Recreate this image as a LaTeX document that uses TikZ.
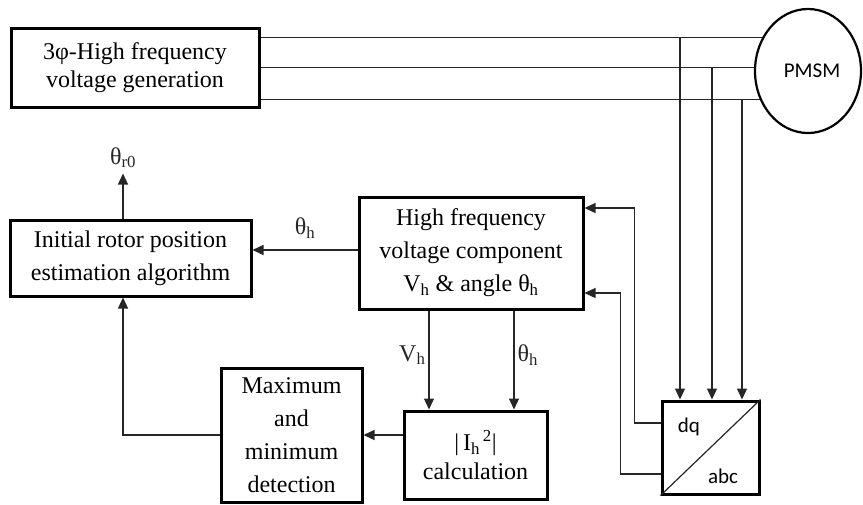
\documentclass[tikz,border=0pt]{standalone}
\usepackage{fontspec}
\setmainfont{Liberation Serif}
\newfontfamily\sansfont{Carlito}
\usetikzlibrary{arrows.meta, shapes.geometric, backgrounds}

\begin{document}
\begin{tikzpicture}[x=1pt, y=-1pt,
    block/.style={draw, line width=3pt, align=center, inner sep=0pt,
                  font=\fontsize{24}{33}\selectfont},
    conn/.style={line width=1.2pt, black!85},
    arr/.style={conn, -{Triangle[length=11pt, width=10pt]}},
    lbl/.style={font=\fontsize{24}{28}\selectfont, inner sep=3pt},
    sans/.style={font=\sansfont\fontsize{21}{25}\selectfont}
  ]
    \useasboundingbox (0,0) rectangle (863,504);

    % Blocks
    \node[block, minimum width=248pt, minimum height=79pt,
          font=\fontsize{24}{28}\selectfont] (gen) at (135,67.5)
          {3φ-High frequency\\voltage generation};
    \node[block, draw, ellipse, line width=2.2pt, fill=white, minimum width=106pt,
          minimum height=124pt, sans] (motor) at (808,71) {\hspace*{8pt}PMSM};
    \node[block, minimum width=241pt, minimum height=76pt] (init) at (130.5,258)
          {Initial rotor position\\estimation algorithm};
    \node[block, minimum width=224pt, minimum height=112pt] (hf) at (471,253)
          {High frequency\\voltage component\\V\textsubscript{h} \& angle θ\textsubscript{h}};
    \node[block, minimum width=141pt, minimum height=134pt] (maxdet) at (291.5,435)
          {Maximum\\and\\minimum\\detection};
    \node[block, minimum width=143pt, minimum height=88pt,
          font=\fontsize{24}{29}\selectfont] (calc) at (475.5,455)
          {|\,I\textsubscript{h}\textsuperscript{\,2}|\\calculation};
    \node[block, minimum width=97pt, minimum height=93pt] (conv) at (710.5,447.5) {};
    \draw[conn] (conv.south west) -- (conv.north east);
    \node[sans] (dq)  at (689,427) {dq};
    \node[sans] (abc) at (723,476) {abc};

    % Three phase lines and their taps
    \foreach \p/\dy/\vx in {pa/30/680, pb/0/712, pc/-32/742} {
      \coordinate (\p) at ([yshift=\dy pt]gen.east);
      \begin{pgfonlayer}{background}
        \draw[conn] (\p) -- (\p -| motor.center);
      \end{pgfonlayer}
      \draw[arr] (\vx,0 |- \p) -- (\vx,0 |- conv.north);
    }

    % Feedback from dq/abc
    \draw[arr] ([yshift=24.5pt]conv.west) -- ++(-26,0) |- ([yshift=45pt]hf.east);
    \draw[arr] ([yshift=-26.5pt]conv.west) -- ++(-40,0) |- ([yshift=-40pt]hf.east);

    % Signal flow
    \draw[arr] ([yshift=3pt]hf.west) -- ([yshift=3pt]hf.west -| init.east)
      node[lbl, midway, above=8pt] {θ\textsubscript{h}};
    \draw[arr] ([xshift=-42pt]hf.south) -- ([xshift=-42pt]hf.south |- calc.north)
      node[lbl, pos=0.45, left] {V\textsubscript{h}};
    \draw[arr] ([xshift=43pt]hf.south) -- ([xshift=43pt]hf.south |- calc.north)
      node[lbl, pos=0.45, right] {θ\textsubscript{h}};
    \draw[arr] (calc.west |- maxdet.east) -- (maxdet.east);
    \draw[arr] (maxdet.west) -| ([xshift=-7.5pt]init.south);
    \draw[arr] ([xshift=-7.5pt]init.north) -- ++(0,-45)
      node[lbl, above=2pt] {θ\textsubscript{r0}};

\end{tikzpicture}
\end{document}
